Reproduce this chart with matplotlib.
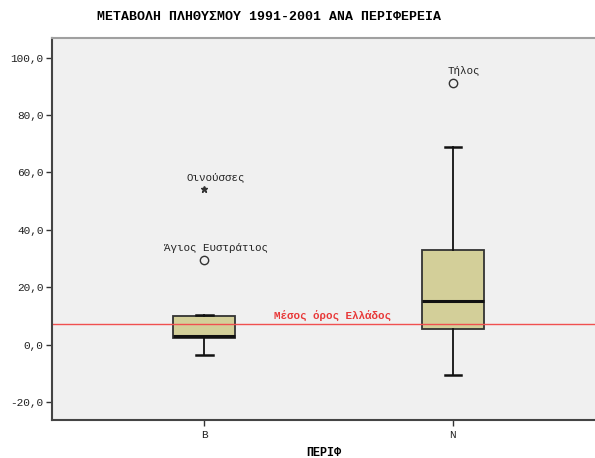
import matplotlib
matplotlib.use("Agg")
import matplotlib.pyplot as plt

# data
regions = ["B", "N"]
q1 = [2.4, 5.5]
medians = [3.0, 15.2]
q3 = [10.1, 33.0]
whisker_low = [-3.5, -10.7]
whisker_high = [10.3, 68.8]

# outliers: (region index, value, name, marker)
outlier_region = [0, 0, 1]
outlier_value = [29.6, 54.1, 91.0]
outlier_name = ["Άγιος Ευστράτιος", "Οινούσσες", "Τήλος"]
outlier_marker = ["o", "*", "o"]

greece_mean = 7.0
yticks = [-20, 0, 20, 40, 60, 80, 100]

mono = "Liberation Mono"

fig = plt.figure(figsize=(5.95, 4.58), dpi=100)
ax = fig.add_axes([52 / 595, 38 / 458, 1 - 52 / 595, 382 / 458])
ax.set_facecolor("#f0f0f0")

positions = [1, 2]
stats = []
for i in range(len(regions)):
    stats.append({"label": regions[i], "q1": q1[i], "med": medians[i], "q3": q3[i],
                  "whislo": whisker_low[i], "whishi": whisker_high[i], "fliers": []})

ax.bxp(stats, positions=positions, widths=0.25, capwidths=0.065, patch_artist=True,
       boxprops=dict(facecolor="#d3cf99", edgecolor="#333333", linewidth=1.3),
       medianprops=dict(color="#111111", linewidth=2.2),
       whiskerprops=dict(color="#111111", linewidth=1.3),
       capprops=dict(color="#111111", linewidth=1.8))

# outliers and labels
for r, v, name, m in zip(outlier_region, outlier_value, outlier_name, outlier_marker):
    x = positions[r]
    if m == "o":
        ax.plot(x, v, marker="o", markersize=6, markerfacecolor="none",
                markeredgecolor="#333333", markeredgewidth=1.0)
    else:
        ax.plot(x, v, marker="*", markersize=5, color="#333333")
    ax.annotate(name, (x, v), xytext=(8, 5), textcoords="offset points",
                ha="center", va="bottom", fontsize=7.8, family=mono, color="#222222")

# mean of Greece
ax.axhline(greece_mean, color="#f05050", linewidth=1.0)
ax.text(1.515, greece_mean + 0.8, "Μέσος όρος Ελλάδος", color="#e83838", fontsize=7.8,
        family=mono, fontweight="bold", ha="center", va="bottom")

ax.set_xlim(0.386, 2.573)
ax.set_ylim(-26.3, 106.8)
ax.set_yticks(yticks)
ax.set_yticklabels([f"{t:.1f}".replace(".", ",") for t in yticks], family=mono, fontsize=8)
ax.set_xticks(positions)
ax.set_xticklabels(regions, family=mono, fontsize=8)
ax.tick_params(direction="out", length=4, width=1, color="#333333", labelcolor="#222222")
ax.tick_params(axis="y", pad=2)

ax.spines["right"].set_visible(False)
ax.spines["top"].set_color("#a0a0a0")
ax.spines["top"].set_linewidth(1.5)
for s in ["left", "bottom"]:
    ax.spines[s].set_color("#444444")
    ax.spines[s].set_linewidth(1.5)

ax.set_xlabel("ΠΕΡΙΦ", family=mono, fontweight="bold", fontsize=8.5, labelpad=5)
fig.text(269 / 595, 1 - 17 / 458, "ΜΕΤΑΒΟΛΗ ΠΛΗΘΥΣΜΟΥ 1991-2001 ΑΝΑ ΠΕΡΙΦΕΡΕΙΑ",
         family=mono, fontweight="bold", fontsize=9.5, ha="center", va="center")

fig.savefig("out.png", dpi=100, facecolor="white")
